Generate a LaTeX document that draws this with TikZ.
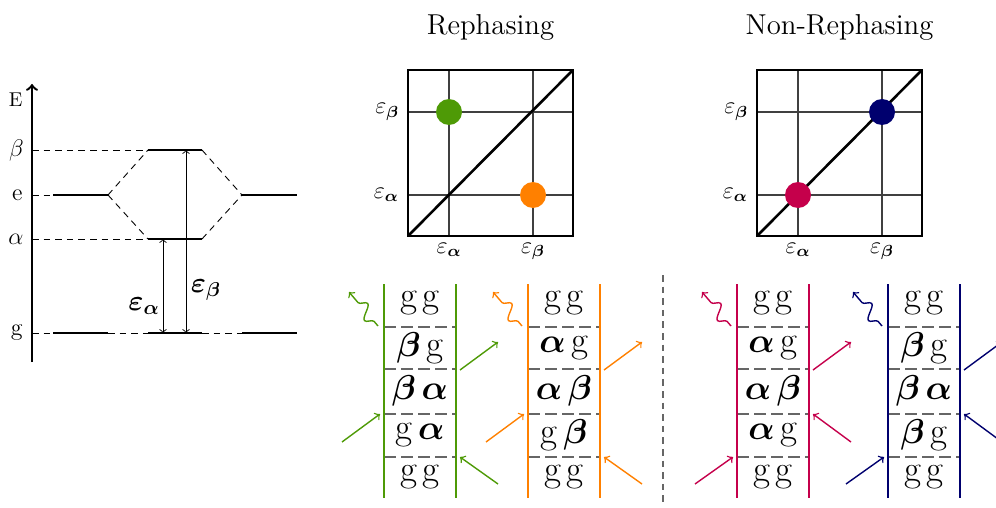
\documentclass[tikz,border=0pt]{standalone}
\usepackage{amsmath,bm}
\usetikzlibrary{calc,decorations.pathmorphing}

\definecolor{rphgreen}{RGB}{78,154,6}
\definecolor{rphorange}{RGB}{255,128,0}
\definecolor{nrphred}{RGB}{197,0,75}
\definecolor{nrphblue}{RGB}{0,0,110}

\newcommand{\stG}{\text{\fontsize{18.5}{20}\selectfont g}}
\newcommand{\stA}{\boldsymbol{\alpha}}
\newcommand{\stB}{\boldsymbol{\beta}}

\tikzset{
  enlevel/.style={line width=1.2pt},
  guide/.style={line width=0.45pt, dash pattern=on 3.3pt off 2.5pt},
  gaparrow/.style={<->, line width=0.45pt},
  lvlabel/.style={anchor=east, inner sep=0pt, font=\large},
  plotframe/.style={line width=1.3pt},
  gridline/.style={line width=0.65pt, black!75},
  axlabel/.style={font=\fontsize{11.5}{13}\selectfont},
  dot/.style={circle, minimum size=13pt, inner sep=0pt},
  ketline/.style={line width=0.9pt},
  slicesep/.style={line width=0.8pt, black!60, dash pattern=on 6pt off 2.5pt},
  pop/.style={font=\fontsize{16}{19}\selectfont, inner sep=0pt},
  field/.style={->, line width=0.7pt},
  emit/.style={->, line width=0.7pt, decorate,
    decoration={snake, amplitude=3.4pt, segment length=11pt, pre length=3pt, post length=2pt}},
}

\begin{document}
\begin{tikzpicture}[x=0.5pt,y=-0.5pt]
    \useasboundingbox (0,0) rectangle (996,508);

    % 2D spectrum macro:
    % #1 = name, #2 = left x, #3 = title
    \newcommand{\spectrum}[3]{%
        \coordinate (#1-sw) at (#2,236);
        \coordinate (#1-ne) at (#2+165,70);
        \coordinate (#1-a) at (#2+41,195);
        \coordinate (#1-b) at (#2+125,112);

        % grid
        \draw[gridline] (#1-a |- #1-sw) -- (#1-a |- #1-ne);
        \draw[gridline] (#1-b |- #1-sw) -- (#1-b |- #1-ne);
        \draw[gridline] (#1-sw |- #1-a) -- (#1-ne |- #1-a);
        \draw[gridline] (#1-sw |- #1-b) -- (#1-ne |- #1-b);

        % diagonal and frame
        \draw[plotframe] (#1-sw) -- (#1-ne);
        \draw[plotframe] (#1-sw) rectangle (#1-ne);

        % axis labels
        \node[axlabel, left=1pt] (#1-ya) at (#1-sw |- #1-a) {$\varepsilon_{\boldsymbol\alpha}$};
        \node[axlabel, left=1pt] (#1-yb) at (#1-sw |- #1-b) {$\varepsilon_{\boldsymbol\beta}$};
        \node[axlabel, below] (#1-xa) at (#1-a |- #1-sw) {$\varepsilon_{\boldsymbol\alpha}$};
        \node[axlabel, below] (#1-xb) at (#1-b |- #1-sw) {$\varepsilon_{\boldsymbol\beta}$};

        \node[font=\Large] (#1-title) at (#2+82.5,27) {#3};
    }

    % Pathway macro:
    % #1 = name, #2 = left x, #3 = colour
    % #4-#6 = populations, bottom to top
    % #7 = side of first field (1 right, -1 left)
    \newcommand{\ladder}[7]{%
        \coordinate (#1-lt) at (#2,284);
        \coordinate (#1-lb) at (#2,498);
        \coordinate (#1-rt) at (#2+72,284);
        \coordinate (#1-rb) at (#2+72,498);

        % time slices
        \foreach \y [count=\i] in {327,369,414,457}{
            \coordinate (#1-sl\i) at (#2,\y);
            \coordinate (#1-sr\i) at (#2+72,\y);
            \draw[slicesep] (#1-sl\i) -- (#1-sr\i);
        }

        % ket and bra
        \draw[ketline,#3] (#1-lt) -- (#1-lb);
        \draw[ketline,#3] (#1-rt) -- (#1-rb);

        % populations
        \node[pop] (#1-p1) at (#2+36,477) {$\stG\,\stG$};
        \node[pop] (#1-p2) at (#2+36,435) {$#4$};
        \node[pop] (#1-p3) at (#2+36,391) {$#5$};
        \node[pop] (#1-p4) at (#2+36,348) {$#6$};
        \node[pop] (#1-p5) at (#2+36,303) {$\stG\,\stG$};

        % fields
        \coordinate (#1-f1s) at ({#2+36+78*(#7)},484);
        \coordinate (#1-f1e) at ({#2+36+40*(#7)},457);
        \coordinate (#1-f2s) at ({#2+36-78*(#7)},442);
        \coordinate (#1-f2e) at ({#2+36-40*(#7)},414);
        \coordinate (#1-f3s) at (#2+76,370);
        \coordinate (#1-f3e) at (#2+114,342);
        \coordinate (#1-ws) at (#2-6,326);
        \coordinate (#1-we) at (#2-35,292);
        \draw[field,#3] (#1-f1s) -- (#1-f1e);
        \draw[field,#3] (#1-f2s) -- (#1-f2e);
        \draw[field,#3] (#1-f3s) -- (#1-f3e);
        \draw[emit,#3] (#1-ws) -- (#1-we);
    }

    % energy levels
    \coordinate (axbot) at (32,362);
    \coordinate (axtop) at (32,84);
    \draw[line width=1.2pt,->] (axbot) -- (axtop);
    \node[lvlabel, font=\normalsize] (lab-E) at (23,100) {E};
    \node[lvlabel] (lab-b) at (24,150) {$\beta$};
    \node[lvlabel] (lab-e) at (23,195) {e};
    \node[lvlabel] (lab-a) at (24,239) {$\alpha$};
    \node[lvlabel] (lab-g) at (23,333) {g};

    \coordinate (eL1) at (53,195);  \coordinate (eL2) at (108,195);
    \coordinate (eR1) at (242,195); \coordinate (eR2) at (297,195);
    \coordinate (bM1) at (148,150); \coordinate (bM2) at (202,150);
    \coordinate (aM1) at (148,239); \coordinate (aM2) at (202,239);
    \coordinate (gL1) at (53,333);  \coordinate (gL2) at (108,333);
    \coordinate (gM1) at (148,333); \coordinate (gM2) at (202,333);
    \coordinate (gR1) at (242,333); \coordinate (gR2) at (297,333);

    \draw[guide] (axbot |- bM1) -- (bM1);
    \draw[guide] (axbot |- eL1) -- (eL1);
    \draw[guide] (axbot |- aM1) -- (aM1);
    \draw[guide] (axbot |- gL1) -- (gL1);
    \draw[guide] (gL2) -- (gM1);
    \draw[guide] (gM2) -- (gR1);
    \draw[guide] (eL2) -- (bM1);
    \draw[guide] (eL2) -- (aM1);
    \draw[guide] (bM2) -- (eR1);
    \draw[guide] (aM2) -- (eR1);

    \foreach \p in {eL,eR,bM,aM,gL,gM,gR}{
        \draw[enlevel] (\p1) -- (\p2);
    }

    \coordinate (gapa1) at (163,239); \coordinate (gapa2) at (163,333);
    \coordinate (gapb1) at (186,150); \coordinate (gapb2) at (186,333);
    \draw[gaparrow] (gapa1) -- (gapa2);
    \draw[gaparrow] (gapb1) -- (gapb2);
    \node[font=\Large] (lab-ea) at (144,306) {$\boldsymbol{\varepsilon}_{\boldsymbol{\alpha}}$};
    \node[font=\Large] (lab-eb) at (206,290) {$\boldsymbol{\varepsilon}_{\boldsymbol{\beta}}$};

    % spectra
    \spectrum{reph}{408}{Rephasing}
    \spectrum{nrph}{757}{Non-Rephasing}
    \node[dot, fill=rphgreen] (reph-pab) at (reph-a |- reph-b) {};
    \node[dot, fill=rphorange] (reph-pba) at (reph-b |- reph-a) {};
    \node[dot, fill=nrphred] (nrph-paa) at (nrph-a) {};
    \node[dot, fill=nrphblue] (nrph-pbb) at (nrph-b) {};

    % pathways
    \ladder{lg}{384}{rphgreen}{\stG\,\stA}{\stB\,\stA}{\stB\,\stG}{1}
    \ladder{lo}{528}{rphorange}{\stG\,\stB}{\stA\,\stB}{\stA\,\stG}{1}
    \ladder{lr}{737}{nrphred}{\stA\,\stG}{\stA\,\stB}{\stA\,\stG}{-1}
    \ladder{lb}{888}{nrphblue}{\stB\,\stG}{\stB\,\stA}{\stB\,\stG}{-1}

    \coordinate (midtop) at (663,275);
    \coordinate (midbot) at (663,503);
    \draw[black!60, line width=0.6pt, dash pattern=on 3.3pt off 2.5pt] (midtop) -- (midbot);
\end{tikzpicture}
\end{document}
